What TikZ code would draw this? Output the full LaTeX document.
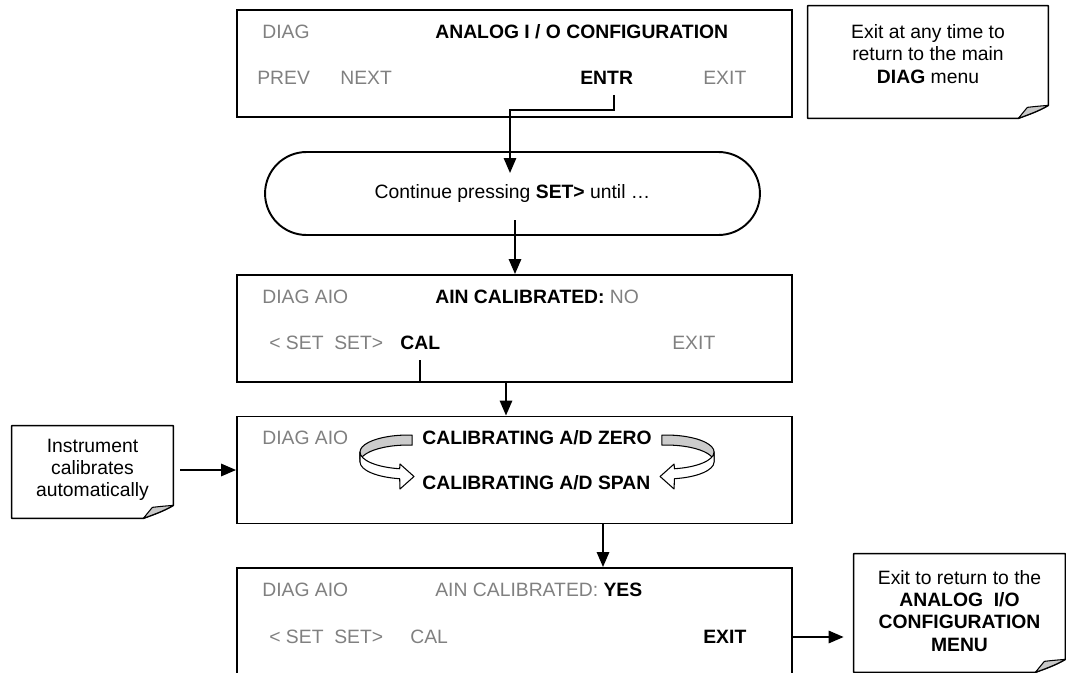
\documentclass[tikz,border=0pt]{standalone}
\usepackage{fontspec}
\setmainfont{Liberation Sans}
\usepackage{tikz}
\usetikzlibrary{arrows.meta,calc,fit}
\definecolor{panelgray}{RGB}{128,128,128}
\definecolor{foldgray}{RGB}{200,200,200}
\definecolor{ribbongray}{RGB}{204,204,204}
\newcommand{\panelsize}{\fontsize{11}{12.6}\selectfont}
% note paper with a curled corner, drawn round a fitted node
\newcommand{\foldnote}[1]{%
  \draw[line width=0.9pt, line join=round] (#1.north west) -- (#1.north east)
    -- ($(#1.south east)+(0,-13)$)
    .. controls ($(#1.south east)+(-10,-7)$) and ($(#1.south east)+(-22,-3)$) .. ($(#1.south east)+(-30,0)$)
    -- (#1.south west) -- cycle;
  \filldraw[fill=foldgray, line width=0.6pt, line join=round] ($(#1.south east)+(-30,0)$)
    -- ($(#1.south east)+(-21,-11)$)
    .. controls ($(#1.south east)+(-12,-12)$) .. ($(#1.south east)+(0,-13)$)
    .. controls ($(#1.south east)+(-10,-7)$) and ($(#1.south east)+(-22,-3)$) .. ($(#1.south east)+(-30,0)$)
    -- cycle;
}
\tikzset{
  screen/.style={draw, line width=1.1pt, minimum width=11.1cm, minimum height=2.14cm, inner sep=0pt},
  dimkey/.style={anchor=west, inner sep=0pt, text=panelgray},
  hotkey/.style={anchor=west, inner sep=0pt, font=\panelsize\bfseries},
  notetext/.style={align=center, inner sep=0pt, font=\panelsize},
  flow/.style={line width=1.1pt, -{Triangle[length=8.5pt,width=7pt]}},
}

\begin{document}
\begin{tikzpicture}[x=0.02cm, y=-0.02cm, font=\panelsize]
  \useasboundingbox (0,0) rectangle (1066,673);

  % screens
  \node[screen] (cfg) at (514.5,63.5) {};
  \node[screen] (aincal) at (514.5,328.5) {};
  \node[screen] (calib) at (514.5,470) {};
  \node[screen] (done) at (514.5,621.5) {};

  % first screen
  \node[dimkey] (cfg-diag) at (262,32) {DIAG};
  \node[hotkey] (cfg-title) at (435,32) {ANALOG I / O CONFIGURATION};
  \node[dimkey] (cfg-prev) at (257,78) {PREV};
  \node[dimkey] (cfg-next) at (340,78) {NEXT};
  \node[hotkey] (cfg-entr) at (580,78) {ENTR};
  \node[dimkey] (cfg-exit) at (703,78) {EXIT};

  \node[draw, line width=1.1pt, rounded corners=0.83cm, minimum width=9.9cm, minimum height=1.66cm]
    (cont) at (512.5,193.5) {Continue pressing \textbf{SET>} until …};

  % second screen
  \node[dimkey] (ain-diag) at (262,297) {DIAG AIO};
  \node[hotkey] (ain-title) at (435,297) {AIN CALIBRATED: \textcolor{panelgray}{\mdseries NO}};
  \node[dimkey] (ain-set) at (269,343) {< SET~~SET>};
  \node[hotkey] (ain-cal) at (400,343) {CAL};
  \node[dimkey] (ain-exit) at (672,343) {EXIT};

  % third screen
  \node[dimkey] (cal-diag) at (262,438) {DIAG AIO};
  \node[hotkey] (cal-zero) at (422,438) {CALIBRATING A/D ZERO};
  \node[hotkey] (cal-span) at (422,483) {CALIBRATING A/D SPAN};

  % curled arrows
  \foreach \side/\sx in {west/1, east/-1} {
    \begin{scope}[shift={(cal-zero.\side)}, xscale=\sx, line width=0.6pt, line join=round]
      \filldraw[fill=ribbongray] (-9.8,-2.9) arc[start angle=275, end angle=180, x radius=48, y radius=17]
        -- ++(0,10) arc[start angle=180, end angle=275, x radius=48, y radius=17] -- cycle;
      \filldraw[fill=white] (-62,14) arc[start angle=180, end angle=100, x radius=48, y radius=17]
        -- (-22,26) -- (-8,38.5) -- (-22,51) -- (-22.3,40.7)
        arc[start angle=100, end angle=180, x radius=48, y radius=17] -- cycle;
    \end{scope}
  }

  % last screen
  \node[dimkey] (done-diag) at (262,590) {DIAG AIO};
  \node[dimkey] (done-title) at (435,590) {AIN CALIBRATED: \textcolor{black}{\bfseries YES}};
  \node[dimkey] (done-set) at (269,637) {< SET~~SET>};
  \node[dimkey] (done-cal) at (410,637) {CAL};
  \node[hotkey] (done-exit) at (703,637) {EXIT};

  % notes
  \node[fit={(808,6) (1048,118)}, inner sep=0pt] (anytime) {};
  \foldnote{anytime}
  \node[notetext] (anytime-txt) at (928,54) {Exit at any time to\\return to the main\\\textbf{DIAG} menu};
  \node[fit={(12,426) (173,518)}, inner sep=0pt] (autonote) {};
  \foldnote{autonote}
  \node[notetext] (autonote-txt) at (92.5,470) {Instrument\\calibrates\\automatically};
  \node[fit={(854,554) (1065,672)}, inner sep=0pt] (retnote) {};
  \foldnote{retnote}
  \node[notetext] (retnote-txt) at (959.5,611) {Exit to return to the\\\textbf{ANALOG~~I/O}\\\textbf{CONFIGURATION}\\\textbf{MENU}};

  % connectors
  \coordinate (entr-bend) at (510,110);
  \coordinate (cont-in) at (510,173);
  \draw[flow] ([xshift=0.14cm,yshift=-0.2cm]cfg-entr.south) |- (entr-bend) -- (cont-in);
  \coordinate (cont-out) at (515,220);
  \draw[flow] (cont-out) -- (cont-out |- aincal.north);
  \coordinate (cal-bend) at (506,382);
  \draw[flow] ([yshift=-0.2cm]ain-cal.south) |- (cal-bend) -- (cal-bend |- calib.north);
  \coordinate (calib-out) at (603,523);
  \draw[flow] (calib-out) -- (calib-out |- done.north);
  \draw[flow] ([xshift=0.14cm]autonote.east |- calib.west) -- (calib.west);
  \draw[flow, shorten >=0.2cm] (done.east |- done-exit.east) -- (retnote.west |- done-exit.east);
\end{tikzpicture}
\end{document}
